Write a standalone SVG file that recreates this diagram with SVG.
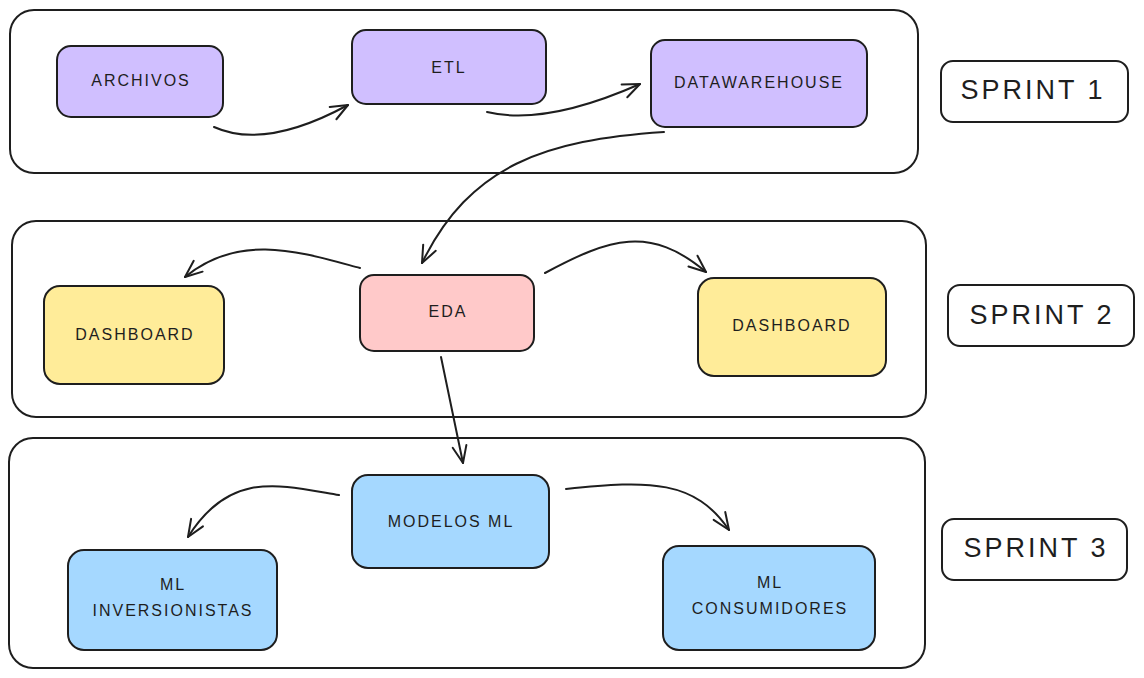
<svg xmlns="http://www.w3.org/2000/svg" width="1144" height="678" viewBox="0 0 1144 678">
<style>
.frame{fill:#ffffff;stroke:#1e1e1e;stroke-width:2}
.box{stroke:#1e1e1e;stroke-width:2}
.purple{fill:#d0bfff}
.red{fill:#ffc9c9}
.yellow{fill:#ffec99}
.blue{fill:#a5d8ff}
.sprint{fill:#ffffff;stroke:#1e1e1e;stroke-width:2}
text{font-family:"Liberation Sans","DejaVu Sans",sans-serif;fill:#1e1e1e;text-anchor:middle;dominant-baseline:central}
.lbl{font-size:16px;letter-spacing:2px}
.big{font-size:27px;letter-spacing:3px}
.conn{fill:none;stroke:#1e1e1e;stroke-width:2;stroke-linecap:round;marker-end:url(#ah)}
</style>
<defs>
<marker id="ah" viewBox="-20 -10 24 20" refX="0" refY="0" markerWidth="24" markerHeight="20" markerUnits="userSpaceOnUse" orient="auto">
<path d="M-17,-7 L0,0 L-17,7" fill="none" stroke="#1e1e1e" stroke-width="2" stroke-linecap="round" stroke-linejoin="round"/>
</marker>
</defs>
<rect width="1144" height="678" fill="#ffffff"/>
<g id="frames">
<rect id="frame1" class="frame" x="10" y="10" width="908" height="163" rx="24"/>
<rect id="frame2" class="frame" x="12" y="221" width="914" height="196" rx="24"/>
<rect id="frame3" class="frame" x="9" y="438" width="916" height="230" rx="24"/>
</g>
<g id="connectors">
<path class="conn" d="M214,127 Q265,150 348,105"/>
<path class="conn" d="M487,112 Q545,126 640,84"/>
<path class="conn" d="M664,132 C545,140 470,165 422,263"/>
<path class="conn" d="M360,268 C300,252 240,232 185,277"/>
<path class="conn" d="M545,273 C610,238 650,225 706,272"/>
<path class="conn" d="M441,357 L463,463"/>
<path class="conn" d="M339,495 C280,485 230,470 188,537"/>
<path class="conn" d="M566,489 C650,480 695,480 729,530"/>
</g>
<g id="archivos"><rect class="box purple" x="57" y="46" width="166" height="71" rx="14"/><text class="lbl" x="141" y="80">ARCHIVOS</text></g>
<g id="etl"><rect class="box purple" x="352" y="30" width="194" height="74" rx="14"/><text class="lbl" x="449" y="67">ETL</text></g>
<g id="datawarehouse"><rect class="box purple" x="651" y="40" width="216" height="87" rx="14"/><text class="lbl" x="759" y="82">DATAWAREHOUSE</text></g>
<g id="sprint1"><rect class="sprint" x="941" y="61" width="187" height="61" rx="12"/><text class="big" x="1033" y="90">SPRINT 1</text></g>
<g id="eda"><rect class="box red" x="360" y="275" width="174" height="76" rx="14"/><text class="lbl" x="448" y="311">EDA</text></g>
<g id="dashboard-left"><rect class="box yellow" x="44" y="286" width="180" height="98" rx="16"/><text class="lbl" x="135" y="334">DASHBOARD</text></g>
<g id="dashboard-right"><rect class="box yellow" x="698" y="278" width="188" height="98" rx="16"/><text class="lbl" x="792" y="325">DASHBOARD</text></g>
<g id="sprint2"><rect class="sprint" x="948" y="285" width="186" height="61" rx="12"/><text class="big" x="1042" y="315">SPRINT 2</text></g>
<g id="modelos-ml"><rect class="box blue" x="352" y="475" width="197" height="93" rx="16"/><text class="lbl" x="451" y="521">MODELOS ML</text></g>
<g id="ml-inversionistas"><rect class="box blue" x="68" y="550" width="209" height="100" rx="16"/><text class="lbl" x="173" y="584">ML</text><text class="lbl" x="173" y="610">INVERSIONISTAS</text></g>
<g id="ml-consumidores"><rect class="box blue" x="663" y="546" width="212" height="104" rx="16"/><text class="lbl" x="770" y="582">ML</text><text class="lbl" x="770" y="608">CONSUMIDORES</text></g>
<g id="sprint3"><rect class="sprint" x="942" y="519" width="185" height="61" rx="12"/><text class="big" x="1036" y="548">SPRINT 3</text></g>
</svg>
